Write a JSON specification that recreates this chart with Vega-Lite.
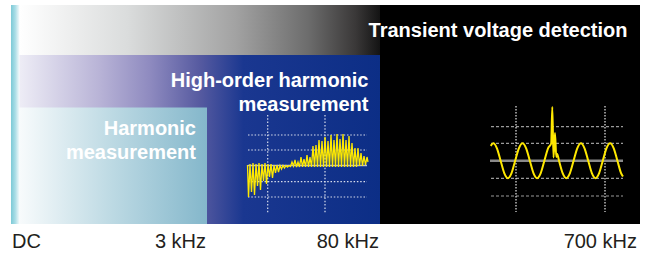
{
  "$schema": "https://vega.github.io/schema/vega-lite/v6.json",
  "width": 651,
  "height": 253,
  "padding": 0,
  "autosize": {"type": "fit", "contains": "padding"},
  "background": "#ffffff",
  "config": {"view": {"stroke": null}},
  "datasets": {
    "grid": [
      {"kind": "hh", "x": 248, "x2": 367, "y": 135, "y2": 135},
      {"kind": "hh", "x": 248, "x2": 367, "y": 150, "y2": 150},
      {"kind": "hh", "x": 248, "x2": 367, "y": 181.7, "y2": 181.7},
      {"kind": "hh", "x": 248, "x2": 367, "y": 197, "y2": 197},
      {"kind": "hv", "x": 267.7, "x2": 267.7, "y": 115, "y2": 213},
      {"kind": "hv", "x": 325, "x2": 325, "y": 115, "y2": 213},
      {"kind": "hb", "x": 248, "x2": 367, "y": 165.5, "y2": 165.5},
      {"kind": "th", "x": 491, "x2": 623, "y": 126.7, "y2": 126.7},
      {"kind": "th", "x": 491, "x2": 623, "y": 143.3, "y2": 143.3},
      {"kind": "th", "x": 491, "x2": 623, "y": 178.3, "y2": 178.3},
      {"kind": "th", "x": 491, "x2": 623, "y": 196, "y2": 196},
      {"kind": "tv", "x": 516, "x2": 516, "y": 106, "y2": 212},
      {"kind": "tv", "x": 605, "x2": 605, "y": 106, "y2": 212},
      {"kind": "tb", "x": 490, "x2": 623, "y": 160.7, "y2": 160.7}
    ],
    "harm": [
      {"x": 247.5, "y": 165}, {"x": 248.5, "y": 197}, {"x": 250, "y": 164}, {"x": 251.5, "y": 192},
      {"x": 253, "y": 163}, {"x": 254.5, "y": 195}, {"x": 256, "y": 164}, {"x": 257.5, "y": 186},
      {"x": 259, "y": 163}, {"x": 260.5, "y": 190}, {"x": 262, "y": 164}, {"x": 263.5, "y": 181},
      {"x": 265, "y": 163}, {"x": 266.5, "y": 184}, {"x": 268, "y": 164}, {"x": 269.5, "y": 177},
      {"x": 271, "y": 164}, {"x": 272.5, "y": 178}, {"x": 274, "y": 165}, {"x": 275.5, "y": 173},
      {"x": 277, "y": 165}, {"x": 278.5, "y": 172}, {"x": 280, "y": 165.5}, {"x": 281.5, "y": 169},
      {"x": 283, "y": 165.5}, {"x": 284.5, "y": 168}, {"x": 286, "y": 165.5}, {"x": 287.5, "y": 167},
      {"x": 289, "y": 165.5}, {"x": 290.5, "y": 166.5}, {"x": 292, "y": 162}, {"x": 293.5, "y": 166},
      {"x": 295, "y": 160}, {"x": 296.5, "y": 167}, {"x": 298, "y": 162}, {"x": 299.5, "y": 167},
      {"x": 301, "y": 157}, {"x": 302.5, "y": 167}, {"x": 304, "y": 159}, {"x": 305.5, "y": 167},
      {"x": 307, "y": 155}, {"x": 308.5, "y": 167}, {"x": 310, "y": 157}, {"x": 311.5, "y": 167},
      {"x": 313, "y": 146}, {"x": 314.5, "y": 167}, {"x": 316, "y": 145}, {"x": 317.5, "y": 167},
      {"x": 319, "y": 140}, {"x": 320.5, "y": 167}, {"x": 322, "y": 141}, {"x": 323.5, "y": 167},
      {"x": 325, "y": 137}, {"x": 326.5, "y": 167}, {"x": 328, "y": 141}, {"x": 329.5, "y": 167},
      {"x": 331, "y": 135}, {"x": 332.5, "y": 167}, {"x": 334, "y": 140}, {"x": 335.5, "y": 167},
      {"x": 337, "y": 134}, {"x": 338.5, "y": 167}, {"x": 340, "y": 139}, {"x": 341.5, "y": 167},
      {"x": 343, "y": 134}, {"x": 344.5, "y": 167}, {"x": 346, "y": 140}, {"x": 347.5, "y": 167},
      {"x": 349, "y": 136}, {"x": 350.5, "y": 167}, {"x": 352, "y": 143}, {"x": 353.5, "y": 167},
      {"x": 355, "y": 148}, {"x": 356.5, "y": 167}, {"x": 358, "y": 148}, {"x": 359.5, "y": 166},
      {"x": 361, "y": 153}, {"x": 362.5, "y": 166}, {"x": 364, "y": 156}, {"x": 365.5, "y": 165},
      {"x": 367, "y": 157}, {"x": 368, "y": 162}
    ],
    "trans": [
      {"x": 490.7, "y": 145.9}, {"x": 493.3, "y": 143.2}, {"x": 496.95, "y": 148.3}, {"x": 500.6, "y": 160.7},
      {"x": 504.25, "y": 173.1}, {"x": 507.9, "y": 178.2}, {"x": 511.55, "y": 173.1}, {"x": 515.2, "y": 160.7},
      {"x": 518.85, "y": 148.3}, {"x": 522.5, "y": 143.2}, {"x": 526.15, "y": 148.3}, {"x": 529.8, "y": 160.7},
      {"x": 533.45, "y": 173.1}, {"x": 537.1, "y": 178.2}, {"x": 540.75, "y": 173.1}, {"x": 544.4, "y": 160.7},
      {"x": 548.05, "y": 148.3}, {"x": 551.2, "y": 143.5}, {"x": 552.3, "y": 107}, {"x": 553.5, "y": 157.5},
      {"x": 555, "y": 133}, {"x": 556.3, "y": 157}, {"x": 557.2, "y": 154}, {"x": 559, "y": 160.7},
      {"x": 562.65, "y": 173.1}, {"x": 566.3, "y": 178.2}, {"x": 569.95, "y": 173.1}, {"x": 573.6, "y": 160.7},
      {"x": 577.25, "y": 148.3}, {"x": 580.9, "y": 143.2}, {"x": 584.55, "y": 148.3}, {"x": 588.2, "y": 160.7},
      {"x": 591.85, "y": 173.1}, {"x": 595.5, "y": 178.2}, {"x": 599.15, "y": 173.1}, {"x": 602.8, "y": 160.7},
      {"x": 606.45, "y": 148.3}, {"x": 610.1, "y": 143.2}, {"x": 613.75, "y": 148.3}, {"x": 617.4, "y": 160.7},
      {"x": 621.05, "y": 173.1}, {"x": 623, "y": 176.5}
    ],
    "titles": [
      {"x": 627.5, "y": 36.7, "text": "Transient voltage detection"},
      {"x": 368.5, "y": 86.7, "text": "High-order harmonic"},
      {"x": 368.5, "y": 110.5, "text": "measurement"},
      {"x": 196, "y": 135, "text": "Harmonic"},
      {"x": 196, "y": 159, "text": "measurement"}
    ],
    "ticks": [
      {"x": 206, "y": 248.3, "text": "3 kHz"},
      {"x": 379, "y": 248.3, "text": "80 kHz"},
      {"x": 637, "y": 248.3, "text": "700 kHz"}
    ]
  },
  "encoding": {
    "x": {"field": "x", "type": "quantitative", "scale": {"domain": [0, 651], "nice": false, "zero": false}, "axis": null},
    "y": {"field": "y", "type": "quantitative", "scale": {"domain": [0, 253], "nice": false, "zero": false, "reverse": true}, "axis": null}
  },
  "layer": [
    {
      "data": {"values": [{"x": 19, "x2": 381, "y": 5, "y2": 55.5}]},
      "mark": {"type": "rect", "fill": {"gradient": "linear", "x1": 0, "x2": 1, "y1": 0, "y2": 0, "stops": [
        {"offset": 0, "color": "#ffffff"}, {"offset": 0.3, "color": "#dadcdc"}, {"offset": 0.6, "color": "#a2a2a2"},
        {"offset": 0.8, "color": "#6c6c6c"}, {"offset": 0.93, "color": "#3a3838"}, {"offset": 1, "color": "#121212"}]}},
      "encoding": {"x2": {"field": "x2"}, "y2": {"field": "y2"}}
    },
    {
      "data": {"values": [{"x": 19, "x2": 381, "y": 55, "y2": 224}]},
      "mark": {"type": "rect", "fill": {"gradient": "linear", "x1": 0, "x2": 1, "y1": 0, "y2": 0, "stops": [
        {"offset": 0, "color": "#eeedf6"}, {"offset": 0.22, "color": "#b9b4d7"}, {"offset": 0.36, "color": "#8f8bc0"},
        {"offset": 0.5, "color": "#565aa0"}, {"offset": 0.62, "color": "#1a3790"}, {"offset": 1, "color": "#0c2e86"}]}},
      "encoding": {"x2": {"field": "x2"}, "y2": {"field": "y2"}}
    },
    {
      "data": {"values": [{"x": 19, "x2": 207, "y": 107.5, "y2": 224}]},
      "mark": {"type": "rect", "fill": {"gradient": "linear", "x1": 0, "x2": 1, "y1": 0, "y2": 0, "stops": [
        {"offset": 0, "color": "#f8fbfc"}, {"offset": 0.5, "color": "#bcd9e3"}, {"offset": 1, "color": "#84b7cb"}]}},
      "encoding": {"x2": {"field": "x2"}, "y2": {"field": "y2"}}
    },
    {
      "data": {"values": [{"x": 11, "x2": 19.5, "y": 5, "y2": 224}]},
      "mark": {"type": "rect", "fill": {"gradient": "linear", "x1": 0, "x2": 1, "y1": 0, "y2": 0, "stops": [
        {"offset": 0, "color": "#7ccad7"}, {"offset": 0.5, "color": "#aadde6"}, {"offset": 1, "color": "#f6fbfc"}]}},
      "encoding": {"x2": {"field": "x2"}, "y2": {"field": "y2"}}
    },
    {
      "data": {"values": [{"x": 380, "x2": 640, "y": 5, "y2": 224}]},
      "mark": {"type": "rect", "fill": "#000000"},
      "encoding": {"x2": {"field": "x2"}, "y2": {"field": "y2"}}
    },
    {
      "data": {"name": "grid"},
      "transform": [{"filter": "datum.kind == 'hh' || datum.kind == 'hv'"}],
      "mark": {"type": "rule", "stroke": "#d8dcec", "strokeWidth": 1.2, "strokeDash": [1.5, 1.8]},
      "encoding": {"x2": {"field": "x2"}, "y2": {"field": "y2"}}
    },
    {
      "data": {"name": "grid"},
      "transform": [{"filter": "datum.kind == 'hb'"}],
      "mark": {"type": "rule", "stroke": "#b8bcd0", "strokeWidth": 1.5},
      "encoding": {"x2": {"field": "x2"}, "y2": {"field": "y2"}}
    },
    {
      "data": {"name": "grid"},
      "transform": [{"filter": "datum.kind == 'th'"}],
      "mark": {"type": "rule", "stroke": "#9a9a9a", "strokeWidth": 1.2, "strokeDash": [3, 2]},
      "encoding": {"x2": {"field": "x2"}, "y2": {"field": "y2"}}
    },
    {
      "data": {"name": "grid"},
      "transform": [{"filter": "datum.kind == 'tv'"}],
      "mark": {"type": "rule", "stroke": "#e8e8e8", "strokeWidth": 1.2, "strokeDash": [1.5, 1.5]},
      "encoding": {"x2": {"field": "x2"}, "y2": {"field": "y2"}}
    },
    {
      "data": {"name": "grid"},
      "transform": [{"filter": "datum.kind == 'tb'"}],
      "mark": {"type": "rule", "stroke": "#8a8a8a", "strokeWidth": 2.5},
      "encoding": {"x2": {"field": "x2"}, "y2": {"field": "y2"}}
    },
    {
      "data": {"name": "harm"},
      "mark": {"type": "line", "stroke": "#ffea00", "strokeWidth": 1.3, "interpolate": "linear"},
      "encoding": {}
    },
    {
      "data": {"name": "trans"},
      "mark": {"type": "line", "stroke": "#ffe800", "strokeWidth": 2, "interpolate": "monotone"},
      "encoding": {}
    },
    {
      "data": {"name": "titles"},
      "mark": {"type": "text", "align": "right", "baseline": "alphabetic", "font": "Liberation Sans", "fontSize": 20, "fontWeight": "bold", "fill": "#ffffff"},
      "encoding": {"text": {"field": "text"}}
    },
    {
      "data": {"values": [{"x": 12, "y": 248.3, "text": "DC"}]},
      "mark": {"type": "text", "align": "left", "baseline": "alphabetic", "font": "Liberation Sans", "fontSize": 20, "fill": "#231f20"},
      "encoding": {"text": {"field": "text"}}
    },
    {
      "data": {"name": "ticks"},
      "mark": {"type": "text", "align": "right", "baseline": "alphabetic", "font": "Liberation Sans", "fontSize": 20, "fill": "#231f20"},
      "encoding": {"text": {"field": "text"}}
    }
  ]
}
